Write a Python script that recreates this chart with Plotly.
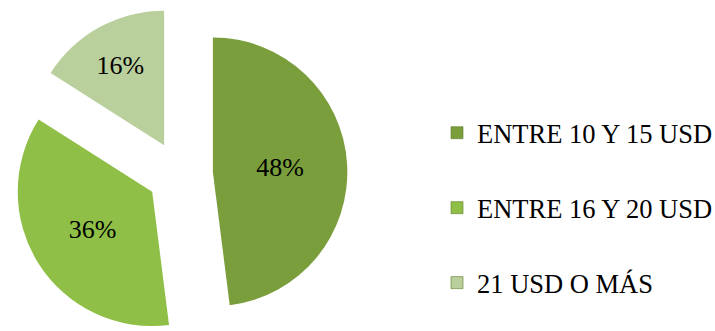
import plotly.graph_objects as go

# Price ranges and their share of responses
categories = ["ENTRE 10 Y 15 USD", "ENTRE 16 Y 20 USD", "21 USD O MÁS"]
shares = [48, 36, 16]
colors = ["#7A9E3C", "#8FBF46", "#B9CF9C"]

FONT = "Liberation Serif, Times New Roman, serif"

fig = go.Figure()

fig.add_trace(go.Pie(
    labels=categories,
    values=shares,
    sort=False,
    direction="clockwise",
    rotation=0,
    pull=[0.245] * len(shares),
    marker=dict(colors=colors, line=dict(width=0)),
    textinfo="percent",
    texttemplate="%{percent:.0%}",
    textposition="inside",
    insidetextorientation="horizontal",
    textfont=dict(family=FONT, size=26, color="#000000"),
    domain=dict(x=[12.6 / 715, 347.4 / 715], y=[0, 1]),
    showlegend=False,
    hoverinfo="skip",
))

# Legend entries, one group per category so they can be spaced apart
for name, col in zip(categories, colors):
    fig.add_trace(go.Scatter(
        x=[None], y=[None],
        mode="markers",
        name=name,
        legendgroup=name,
        marker=dict(symbol="square", size=12, color=col,
                    line=dict(width=0.6, color="#5E7A2A")),
        hoverinfo="skip",
    ))

fig.update_layout(
    width=715,
    height=342,
    margin=dict(l=0, r=0, t=6, b=0, pad=0, autoexpand=False),
    paper_bgcolor="white",
    plot_bgcolor="white",
    xaxis=dict(visible=False),
    yaxis=dict(visible=False),
    font=dict(family=FONT, size=26.5, color="#000000"),
    legend=dict(
        x=437 / 715,
        xanchor="left",
        y=1 - 103 / 336,
        yanchor="top",
        tracegroupgap=37.5,
        font=dict(family=FONT, size=26.5, color="#000000"),
        bgcolor="rgba(0,0,0,0)",
        borderwidth=0,
    ),
)

fig.write_html("out.html")
